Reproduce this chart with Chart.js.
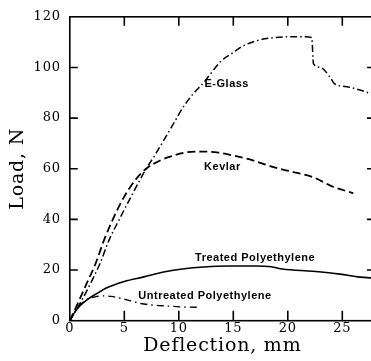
<!DOCTYPE html>
<html lang="en">
<head>
<meta charset="UTF-8">
<title>Load vs deflection</title>
<script src="https://cdn.jsdelivr.net/npm/chart.js"></script>
<style>
  html, body { margin: 0; padding: 0; background: #fff; overflow: hidden; }
  canvas { display: block; }
</style>
</head>
<body>
<canvas id="chart" width="380" height="361"></canvas>
<script>
// values (deflection in mm, load in N)
const eGlassX = [0, 0.9, 1.9, 2.77, 3.6, 4.6, 5.6, 6.3, 7.0, 7.7, 8.6, 9.5, 10.4, 11.3, 12.3, 12.9, 13.9, 15.0, 15.9, 17.1, 18.4, 19.9, 21.1, 22.2, 22.35, 23.0, 23.9, 24.3, 25.4, 26.6, 28];
const eGlassY = [0, 6.5, 14.7, 22.6, 31.8, 40.5, 48.8, 54.5, 60, 64.6, 71.1, 77.7, 84.3, 89.5, 94.1, 97.4, 102.6, 105.9, 108.5, 110.5, 111.6, 112.1, 112.1, 111.8, 101.5, 100, 96, 93.5, 92.4, 91.1, 89];

const kevlarX = [0, 0.8, 1.55, 2.37, 3.14, 4.0, 4.97, 6.0, 7.0, 8.3, 9.5, 10.7, 11.9, 13.5, 15.0, 16.8, 18.7, 20.5, 22.3, 24.2, 26.0];
const kevlarY = [0, 7.5, 14.7, 22.6, 31.8, 40.5, 48.8, 55.5, 60, 63.3, 65.2, 66.5, 66.8, 66.5, 65.2, 63.3, 60.6, 58.7, 56.7, 52.8, 50.4];

const treatedX = [0, 0.4, 0.85, 1.6, 2.5, 3.4, 5.0, 6.8, 8.6, 10.5, 12.3, 14.5, 17.0, 18.5, 19.5, 22.3, 24.8, 26.6, 28];
const treatedY = [0, 3.0, 5.5, 8.3, 10.8, 13.0, 15.5, 17.3, 19.2, 20.5, 21.2, 21.6, 21.6, 21.3, 20.4, 19.5, 18.4, 17.2, 16.8];

const untreatedX = [0, 0.5, 1.0, 1.6, 2.3, 3.0, 3.8, 4.8, 5.6, 6.5, 7.5, 9.0, 10.5, 12.0];
const untreatedY = [0, 4, 6.5, 8.4, 9.4, 9.8, 9.6, 8.7, 7.8, 6.8, 6.2, 5.8, 5.4, 5.3];

// curve captions, placed in data units
const labelText = ['E-Glass', 'Kevlar', 'Treated Polyethylene', 'Untreated Polyethylene'];
const labelX = [14.4, 14.0, 17.0, 12.4];
const labelY = [93.5, 60.6, 24.9, 9.6];

const zip = (xs, ys) => xs.map((x, i) => ({x, y: ys[i]}));

function line(data, dash, width) {
  return { data, borderColor: '#000', borderWidth: width, borderDash: dash, pointRadius: 0, fill: false, cubicInterpolationMode: 'monotone' };
}

// box round the plot with inward tick marks, like the printed figure
const frame = {
  id: 'frame',
  beforeDraw(chart) { chart.ctx.letterSpacing = '0.8px'; },
  afterDraw(chart) {
    const {ctx, chartArea: a, scales: {x, y}} = chart;
    ctx.save();
    ctx.strokeStyle = '#000';
    ctx.lineWidth = 1.6;
    ctx.strokeRect(a.left, a.top, a.right - a.left, a.bottom - a.top);
    ctx.beginPath();
    x.ticks.forEach(t => {
      if (t.value <= x.min || t.value >= x.max) return;
      const px = x.getPixelForValue(t.value);
      ctx.moveTo(px, a.bottom); ctx.lineTo(px, a.bottom - 10);
      ctx.moveTo(px, a.top); ctx.lineTo(px, a.top + 9);
    });
    y.ticks.forEach(t => {
      if (t.value <= y.min || t.value >= y.max) return;
      const py = y.getPixelForValue(t.value);
      ctx.moveTo(a.left, py); ctx.lineTo(a.left + 8, py);
      ctx.moveTo(a.right, py); ctx.lineTo(a.right - 8, py);
    });
    ctx.stroke();
    ctx.restore();
  },
  afterDatasetsDraw(chart) {
    const {ctx, scales: {x, y}} = chart;
    ctx.save();
    ctx.letterSpacing = '0.5px';
    ctx.font = 'bold 11px "Liberation Sans", Arial, sans-serif';
    ctx.fillStyle = '#000';
    ctx.textAlign = 'center';
    ctx.textBaseline = 'middle';
    labelText.forEach((txt, i) => ctx.fillText(txt, x.getPixelForValue(labelX[i]), y.getPixelForValue(labelY[i])));
    ctx.restore();
  }
};

const serif = '"DejaVu Serif", serif';

new Chart(document.getElementById('chart'), {
  type: 'line',
  data: {
    datasets: [
      line(zip(eGlassX, eGlassY), [7, 3, 1.5, 3], 1.5),
      line(zip(kevlarX, kevlarY), [8, 4], 1.8),
      line(zip(treatedX, treatedY), [], 1.6),
      line(zip(untreatedX, untreatedY), [7, 4, 1.5, 4], 1.4)
    ]
  },
  options: {
    responsive: false,
    animation: false,
    layout: { padding: { top: 15.7, right: 5, left: 0, bottom: 0 } },
    plugins: { legend: { display: false }, tooltip: { enabled: false } },
    scales: {
      x: {
        type: 'linear', min: 0, max: 28,
        grid: { display: false, drawTicks: false },
        border: { display: false },
        ticks: { stepSize: 5, includeBounds: false, padding: 0, color: '#000', font: { family: serif, size: 13 } },
        title: { display: true, text: 'Deflection, mm', color: '#000', font: { family: serif, size: 19 }, padding: { top: 0, bottom: 4 } },
        afterFit: s => { s.height = 40.3; }
      },
      y: {
        min: 0, max: 120,
        grid: { display: false, drawTicks: false },
        border: { display: false },
        ticks: { stepSize: 20, padding: 9, color: '#000', font: { family: serif, size: 13 } },
        title: { display: true, text: 'Load, N', color: '#000', font: { family: serif, size: 19 }, padding: { top: 7, bottom: 0 } },
        afterFit: s => { s.width = 69.8; }
      }
    }
  },
  plugins: [frame]
});
</script>
</body>
</html>
